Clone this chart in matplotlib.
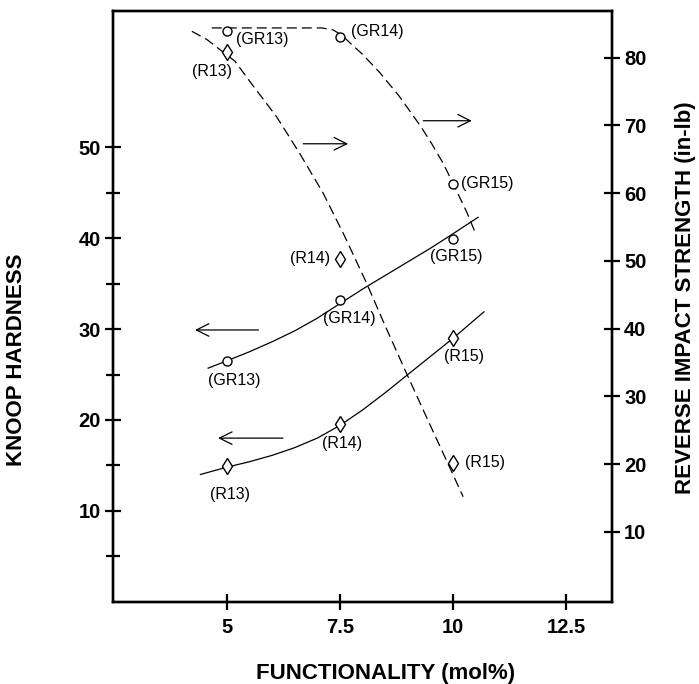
import matplotlib
matplotlib.use("Agg")
import matplotlib.pyplot as plt

plt.rcParams['font.family'] = ['Liberation Sans', 'DejaVu Sans']

# ---- data ----
func = [5.0, 7.5, 10.0]                      # functionality (mol%)
knoop_gr = [26.45, 33.2, 39.9]               # Knoop hardness, GR series (circles)
knoop_r = [14.9, 19.6, 29.0]                 # Knoop hardness, R series (diamonds)
impact_gr = [83.9, 83.1, 61.4]               # reverse impact (in-lb), GR series
impact_r = [80.9, 50.3, 20.2]                # reverse impact (in-lb), R series
gr_labels = ["(GR13)", "(GR14)", "(GR15)"]
r_labels = ["(R13)", "(R14)", "(R15)"]

# hand-drawn trend curves
knoop_gr_curve_x = [4.59, 5.0, 5.5, 6.0, 6.5, 7.0, 7.5, 8.0, 8.5, 9.0, 9.5, 10.0, 10.55]
knoop_gr_curve_y = [25.7, 26.5, 27.5, 28.6, 29.8, 31.2, 32.8, 34.4, 35.9, 37.4, 38.9, 40.5, 42.3]
knoop_r_curve_x = [4.42, 5.0, 5.5, 6.0, 6.5, 7.0, 7.5, 8.0, 8.5, 9.0, 9.5, 10.0, 10.68]
knoop_r_curve_y = [14.0, 14.8, 15.4, 16.1, 16.95, 18.0, 19.4, 21.1, 23.0, 25.0, 27.0, 29.0, 31.9]
impact_gr_curve_x = [4.67, 5.5, 6.5, 7.1, 7.35, 7.55, 7.72, 8.0, 8.38, 8.8, 9.27, 9.5, 9.78, 10.0, 10.3, 10.48]
impact_gr_curve_y = [84.4, 84.4, 84.4, 84.4, 84.1, 83.3, 82.2, 80.5, 77.8, 74.4, 70.0, 67.6, 64.4, 61.4, 57.2, 54.3]
impact_r_curve_x = [4.23, 4.56, 5.18, 5.6, 6.1, 6.6, 7.13, 7.6, 8.09, 8.5, 8.97, 9.4, 9.78, 10.22]
impact_r_curve_y = [83.9, 82.7, 79.5, 75.7, 71.3, 66.0, 60.0, 53.7, 46.7, 40.4, 33.4, 27.1, 21.6, 15.2]

# arrows: (tail_x, head_x, y)
knoop_arrows = [(5.7, 4.3, 29.9), (6.24, 4.81, 18.0)]
impact_arrows = [(6.69, 7.68, 67.3), (9.34, 10.41, 70.7)]

x_ticks = [5, 7.5, 10, 12.5]
x_ticklabels = ["5", "7.5", "10", "12.5"]
left_major = [10, 20, 30, 40, 50]
left_minor = [5, 15, 25, 35, 45]
right_ticks = [10, 20, 30, 40, 50, 60, 70, 80]

# ---- figure ----
fig = plt.figure(figsize=(6.99, 6.84), dpi=100)
ax = fig.add_axes([113.5 / 699, 1 - 601.7 / 684, (611.7 - 113.5) / 699, (601.7 - 11) / 684])
ax2 = ax.twinx()

ax.set_xlim(2.5, 13.5)
ax.set_ylim(0, 65)
ax2.set_ylim(-0.3, 86.9)

lw_line = 0.9
dash = (8, 4)

# Knoop (solid, left axis)
ax.plot(knoop_gr_curve_x, knoop_gr_curve_y, color='black', lw=lw_line)
ax.plot(knoop_r_curve_x, knoop_r_curve_y, color='black', lw=lw_line)
ax.plot(func, knoop_gr, linestyle='none', marker='o', ms=6.5, mfc='white', mec='black', mew=1.0, zorder=5)
ax.plot(func, knoop_r, linestyle='none', marker='d', ms=8.5, mfc='white', mec='black', mew=1.0, zorder=5)

# Impact (dashed, right axis)
ax2.plot(impact_gr_curve_x, impact_gr_curve_y, color='black', lw=lw_line, dashes=dash)
ax2.plot(impact_r_curve_x, impact_r_curve_y, color='black', lw=lw_line, dashes=dash)
ax2.plot(func, impact_gr, linestyle='none', marker='o', ms=6.5, mfc='white', mec='black', mew=1.0, zorder=5)
ax2.plot(func, impact_r, linestyle='none', marker='d', ms=8.5, mfc='white', mec='black', mew=1.0, zorder=5)

lab_fs = 11.5
def lab(axis, x, y, s, dx, dy, ha='center'):
    axis.annotate(s, (x, y), xytext=(dx, dy), textcoords='offset pixels',
                  ha=ha, va='center', fontsize=lab_fs)

# impact labels
lab(ax2, func[0], impact_gr[0], gr_labels[0], 9, -8, 'left')
lab(ax2, func[1], impact_gr[1], gr_labels[1], 11, 5, 'left')
lab(ax2, func[2], impact_gr[2], gr_labels[2], 8, 0, 'left')
lab(ax2, func[0], impact_r[0], r_labels[0], -15, -20)
lab(ax2, func[1], impact_r[1], r_labels[1], -10, 0, 'right')
lab(ax2, func[2], impact_r[2], r_labels[2], 12, 0, 'left')
# knoop labels
lab(ax, func[0], knoop_gr[0], gr_labels[0], 8, -19)
lab(ax, func[1], knoop_gr[1], gr_labels[1], 9, -19)
lab(ax, func[2], knoop_gr[2], gr_labels[2], 3, -17)
lab(ax, func[0], knoop_r[0], r_labels[0], 3, -28)
lab(ax, func[1], knoop_r[1], r_labels[1], 2, -20)
lab(ax, func[2], knoop_r[2], r_labels[2], 11, -18)

arrow_style = '->,head_length=0.9,head_width=0.45'
for tx, hx, y in knoop_arrows:
    ax.annotate('', xy=(hx, y), xytext=(tx, y),
                arrowprops=dict(arrowstyle=arrow_style, color='black', lw=0.9,
                                shrinkA=0, shrinkB=0, mutation_scale=10))
for tx, hx, y in impact_arrows:
    ax2.annotate('', xy=(hx, y), xytext=(tx, y),
                 arrowprops=dict(arrowstyle=arrow_style, color='black', lw=0.9,
                                 shrinkA=0, shrinkB=0, mutation_scale=10))

# ticks
tick_fs = 14.5
ax.set_xticks(x_ticks)
ax.set_xticklabels(x_ticklabels, fontsize=tick_fs, fontweight='bold')
ax.set_yticks(left_major)
ax.set_yticklabels([str(v) for v in left_major], fontsize=tick_fs, fontweight='bold')
ax.set_yticks(left_minor, minor=True)
ax.tick_params(axis='both', which='major', direction='inout', length=12, width=1.6, pad=3, colors='black')
ax.tick_params(axis='y', which='minor', direction='inout', length=10, width=1.6)
ax.tick_params(axis='x', which='major', pad=6)
ax.tick_params(axis='x', which='minor', bottom=False)
ax2.set_yticks(right_ticks)
ax2.set_yticklabels([str(v) for v in right_ticks], fontsize=tick_fs, fontweight='bold')
ax2.tick_params(axis='y', which='major', direction='inout', length=12, width=1.6, pad=3)
ax2.tick_params(axis='y', which='minor', right=False)

for a in (ax, ax2):
    for sp in a.spines.values():
        sp.set_linewidth(1.7)

# axis titles
fig.text(17 / 699, 1 - 360 / 684, "KNOOP HARDNESS", rotation=90, ha='center', va='center',
         fontsize=16, fontweight='bold')
fig.text(685 / 699, 1 - 297.5 / 684, "REVERSE IMPACT STRENGTH (in-lb)", rotation=90,
         ha='center', va='center', fontsize=16, fontweight='bold')
fig.text(386 / 699, 1 - 673 / 684, "FUNCTIONALITY (mol%)", ha='center', va='center',
         fontsize=16, fontweight='bold')

fig.savefig("out.png", dpi=100)
